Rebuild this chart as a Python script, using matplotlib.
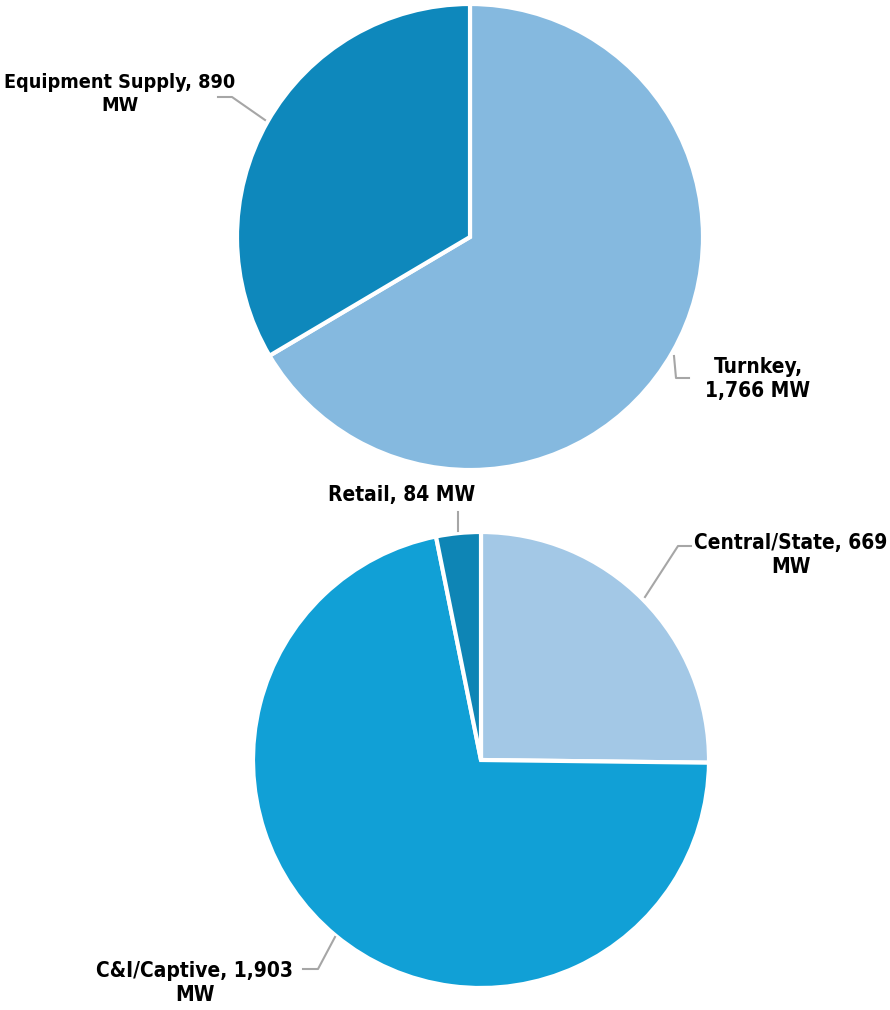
import matplotlib.pyplot as plt

plt.rcParams['font.family'] = ['DejaVu Sans']
plt.rcParams['font.stretch'] = 'condensed'

# top pie: business model
top_labels = ['Turnkey,\n1,766 MW', 'Equipment Supply, 890\nMW']
top_values = [1766, 890]
top_colors = ['#85B9DF', '#0E88BC']

# bottom pie: customer segment
bot_labels = ['Central/State, 669\nMW', 'C&I/Captive, 1,903\nMW', 'Retail, 84 MW']
bot_values = [669, 1903, 84]
bot_colors = ['#A3C8E6', '#11A0D6', '#0E85B5']

W, H = 890, 1010
fig = plt.figure(figsize=(W / 100, H / 100), dpi=100)


def pie_axes(cx, cy, r):
    ax = fig.add_axes([(cx - r) / W, (H - cy - r) / H, 2 * r / W, 2 * r / H])
    return ax


def to_data(cx, cy, r, px, py):
    return ((px - cx) / r, (cy - py) / r)


lc = '#A6A6A6'
tkw = dict(ha='center', va='center', fontsize=15, fontweight='bold',
           fontstretch='condensed', linespacing=1.3)

# top
cx, cy, r = 470, 237, 233
ax1 = pie_axes(cx, cy, r)
ax1.pie(top_values, colors=top_colors, startangle=90, counterclock=False, radius=1,
        wedgeprops=dict(edgecolor='white', linewidth=3))
ax1.set_xlim(-1, 1)
ax1.set_ylim(-1, 1)
ax1.axis('off')

pts = [to_data(cx, cy, r, x, y) for x, y in [(265, 120), (232, 97), (218, 97)]]
ax1.plot([p[0] for p in pts], [p[1] for p in pts], color=lc, lw=1.5, clip_on=False)
tx, ty = to_data(cx, cy, r, 120, 94)
ax1.text(tx, ty, top_labels[1], **dict(tkw, fontsize=14.2))

pts = [to_data(cx, cy, r, x, y) for x, y in [(674, 356), (676, 378), (689, 378)]]
ax1.plot([p[0] for p in pts], [p[1] for p in pts], color=lc, lw=1.5, clip_on=False)
tx, ty = to_data(cx, cy, r, 758, 379)
ax1.text(tx, ty, top_labels[0], **tkw)

# bottom
cx, cy, r = 481, 760, 228
ax2 = pie_axes(cx, cy, r)
ax2.pie(bot_values, colors=bot_colors, startangle=90, counterclock=False, radius=1,
        wedgeprops=dict(edgecolor='white', linewidth=3))
ax2.set_xlim(-1, 1)
ax2.set_ylim(-1, 1)
ax2.axis('off')

pts = [to_data(cx, cy, r, x, y) for x, y in [(645, 597), (678, 546), (691, 546)]]
ax2.plot([p[0] for p in pts], [p[1] for p in pts], color=lc, lw=1.5, clip_on=False)
tx, ty = to_data(cx, cy, r, 791, 555)
ax2.text(tx, ty, bot_labels[0], **tkw)

pts = [to_data(cx, cy, r, x, y) for x, y in [(335, 937), (318, 969), (303, 969)]]
ax2.plot([p[0] for p in pts], [p[1] for p in pts], color=lc, lw=1.5, clip_on=False)
tx, ty = to_data(cx, cy, r, 195, 983)
ax2.text(tx, ty, bot_labels[1], **tkw)

pts = [to_data(cx, cy, r, x, y) for x, y in [(458, 512), (458, 531)]]
ax2.plot([p[0] for p in pts], [p[1] for p in pts], color=lc, lw=1.5, clip_on=False)
tx, ty = to_data(cx, cy, r, 402, 495)
ax2.text(tx, ty, bot_labels[2], **tkw)

fig.savefig('out.png', dpi=100)
